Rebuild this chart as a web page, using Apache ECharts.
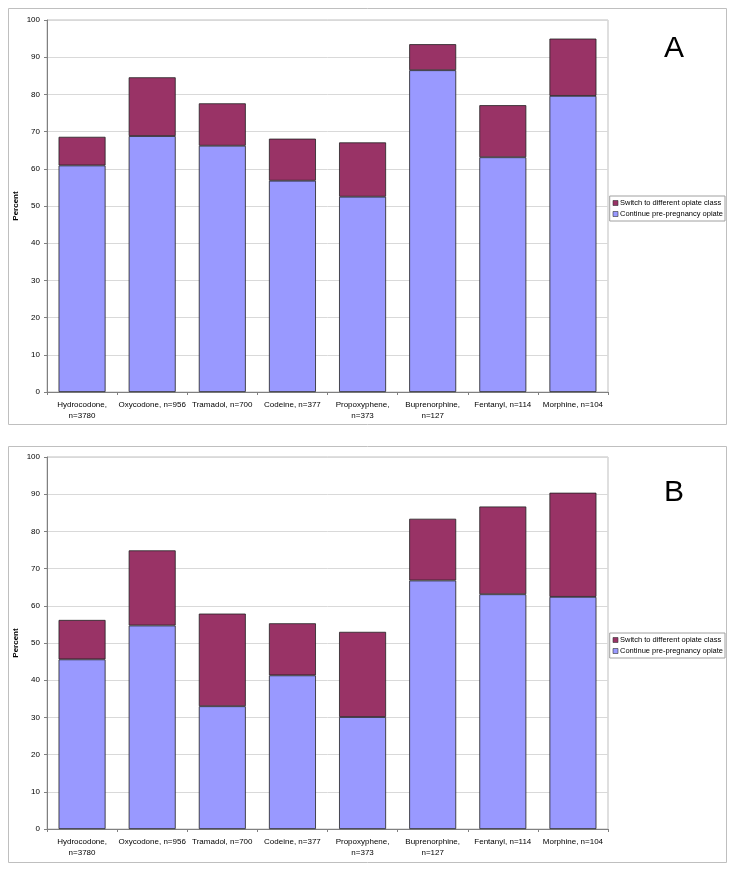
<!DOCTYPE html>
<html>
<head>
<meta charset="utf-8">
<script src="https://cdn.jsdelivr.net/npm/echarts@6/dist/echarts.min.js"></script>
<style>
html,body{margin:0;padding:0;background:#fff;}
#c{width:736px;height:872px;}
</style>
</head>
<body>
<div id="c"></div>
<script>
const categories = ["Hydrocodone, n=3780", "Oxycodone, n=956", "Tramadol, n=700", "Codeine, n=377", "Propoxyphene, n=373", "Buprenorphine, n=127", "Fentanyl, n=114", "Morphine, n=104"];
const seriesNames = ["Switch to different opiate class", "Continue pre-pregnancy opiate"];
const yTicks = [0, 10, 20, 30, 40, 50, 60, 70, 80, 90, 100];
const panelLabels = ["A", "B"];
const aContinue = [60.9, 68.8, 66.2, 56.8, 52.5, 86.5, 63.1, 79.6];
const aSwitch   = [7.7, 15.8, 11.4, 11.3, 14.6, 7.0, 14.0, 15.4];
const bContinue = [45.6, 54.7, 33.0, 41.3, 30.1, 66.8, 63.1, 62.4];
const bSwitch   = [10.6, 20.2, 24.9, 14.0, 22.9, 16.6, 23.6, 28.0];

const FONT = "'Liberation Sans', Arial, sans-serif";
const BLUE = "#9999FF", MAROON = "#993366";

function xAxis(gi){
  return {
    type:'category', gridIndex:gi, data:categories,
    axisLine:{lineStyle:{color:'#808080',width:1}},
    axisTick:{show:true,length:3,lineStyle:{color:'#808080'}},
    axisLabel:{fontFamily:FONT,fontSize:8,color:'#000',interval:0,margin:7,lineHeight:11,
      formatter:v=>v.length>17?v.replace(', ',',\n'):v}
  };
}
function yAxis(gi){
  return {
    type:'value', gridIndex:gi, min:0, max:100, interval:10,
    name:'Percent', nameLocation:'middle', nameGap:27, nameMoveOverlap:false,
    nameTextStyle:{fontFamily:FONT,fontSize:8,fontWeight:'bold',color:'#000'},
    axisLine:{show:true,lineStyle:{color:'#808080',width:1}},
    axisTick:{show:true,length:3,lineStyle:{color:'#808080'}},
    axisLabel:{fontFamily:FONT,fontSize:8,color:'#000',margin:7,
      formatter:v=>yTicks.indexOf(v)>=0?String(v):''},
    splitLine:{show:true,lineStyle:{color:'#D9D9D9',width:1}}
  };
}
function bar(name, data, gi, color){
  return {
    type:'bar', name:name, data:data, xAxisIndex:gi, yAxisIndex:gi, stack:'s'+gi,
    barCategoryGap:'33%',
    itemStyle:{color:color,borderColor:'#222',borderWidth:0.8},
    emphasis:{disabled:true}
  };
}
function legend(top){
  return {
    right:11, top:top, orient:'vertical', data:seriesNames,
    itemWidth:5, itemHeight:5, itemGap:3, icon:'rect',
    borderColor:'#A0A0A0', borderWidth:1, padding:[3,2,3,3],
    textStyle:{fontFamily:FONT,fontSize:7.5,color:'#000',padding:[0,0,0,-3]},
    selectedMode:false,
    itemStyle:{borderColor:'#333',borderWidth:0.6}
  };
}

const chart = echarts.init(document.getElementById('c'), null, {renderer:'canvas'});
chart.setOption({
  animation:false,
  backgroundColor:'#fff',
  graphic:[
    {type:'rect',shape:{x:8.5,y:8.5,width:718,height:416},style:{fill:'none',stroke:'#BFBFBF',lineWidth:1},z:-1},
    {type:'rect',shape:{x:8.5,y:446.5,width:718,height:416},style:{fill:'none',stroke:'#BFBFBF',lineWidth:1},z:-1},
    {type:'text',left:664,top:34,style:{text:panelLabels[0],font:"30px "+FONT,fill:'#000'}},
    {type:'text',left:664,top:478,style:{text:panelLabels[1],font:"30px "+FONT,fill:'#000'}}
  ],
  grid:[
    {left:47,top:20,width:561,height:372,show:true,borderColor:'#BFBFBF',borderWidth:1,backgroundColor:'#fff'},
    {left:47,top:457,width:561,height:372,show:true,borderColor:'#BFBFBF',borderWidth:1,backgroundColor:'#fff'}
  ],
  legend:[legend(196), legend(633)],
  xAxis:[xAxis(0), xAxis(1)],
  yAxis:[yAxis(0), yAxis(1)],
  series:[
    bar(seriesNames[1], aContinue, 0, BLUE),
    bar(seriesNames[0], aSwitch, 0, MAROON),
    bar(seriesNames[1], bContinue, 1, BLUE),
    bar(seriesNames[0], bSwitch, 1, MAROON)
  ]
});
</script>
</body>
</html>
